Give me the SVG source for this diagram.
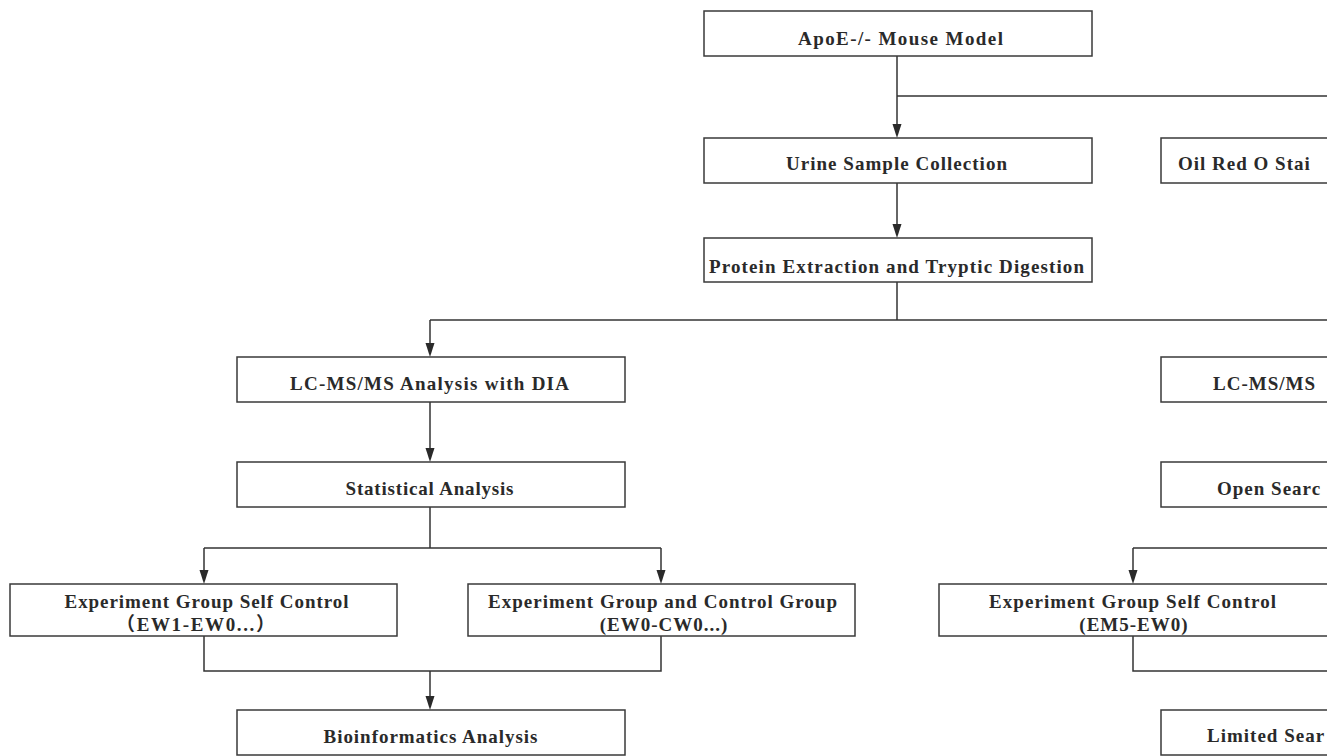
<svg xmlns="http://www.w3.org/2000/svg" width="1327" height="756" viewBox="0 0 1327 756">
<style>
.box{fill:#fff;stroke:#3a3a3a;stroke-width:1.5}
.t{font-family:"Liberation Serif","Times New Roman",serif;font-weight:bold;font-size:19px;fill:#2a2a2a;text-anchor:middle;letter-spacing:1px}
.ts{font-family:"Liberation Serif","Times New Roman",serif;font-weight:bold;font-size:19px;fill:#2a2a2a;letter-spacing:1px}
.c{fill:none;stroke:#333;stroke-width:1.5}
.ah{fill:#2a2a2a}
</style>
<rect width="1327" height="756" fill="#fff"/>
<g id="connectors">
<path class="c" d="M897,56 V125"/>
<path class="c" d="M897,96 H1327"/>
<path class="c" d="M897,183 V225"/>
<path class="c" d="M897,282 V320"/>
<path class="c" d="M430,320 H1327"/>
<path class="c" d="M430,320 V344"/>
<path class="c" d="M430,402 V449"/>
<path class="c" d="M430,507 V548"/>
<path class="c" d="M204,548 H661"/>
<path class="c" d="M204,548 V571"/>
<path class="c" d="M661,548 V571"/>
<path class="c" d="M204,636 V671 H661 V636"/>
<path class="c" d="M430,671 V697"/>
<path class="c" d="M1133,548 H1327"/>
<path class="c" d="M1133,548 V571"/>
<path class="c" d="M1133,636 V671 H1327"/>
<path class="ah" d="M892.5,124 L901.5,124 L897,138 Z"/>
<path class="ah" d="M892.5,224 L901.5,224 L897,238 Z"/>
<path class="ah" d="M425.5,343 L434.5,343 L430,357 Z"/>
<path class="ah" d="M425.5,448 L434.5,448 L430,462 Z"/>
<path class="ah" d="M199.5,570 L208.5,570 L204,584 Z"/>
<path class="ah" d="M656.5,570 L665.5,570 L661,584 Z"/>
<path class="ah" d="M425.5,696 L434.5,696 L430,710 Z"/>
<path class="ah" d="M1128.5,570 L1137.5,570 L1133,584 Z"/>
</g>
<g id="n-apoe"><rect class="box" x="704" y="11" width="388" height="45"/><text class="t" x="901" y="45" textLength="206">ApoE-/- Mouse Model</text></g>
<g id="n-urine"><rect class="box" x="704" y="138" width="388" height="45"/><text class="t" x="897" y="170" textLength="222">Urine Sample Collection</text></g>
<g id="n-oil"><rect class="box" x="1161" y="138" width="400" height="45"/><text class="ts" x="1178" y="170">Oil Red O Stai</text></g>
<g id="n-protein"><rect class="box" x="704" y="238" width="388" height="44"/><text class="t" x="897" y="273" textLength="376">Protein Extraction and Tryptic Digestion</text></g>
<g id="n-dia"><rect class="box" x="237" y="357" width="388" height="45"/><text class="t" x="430" y="390" textLength="280">LC-MS/MS Analysis with DIA</text></g>
<g id="n-lcms-r"><rect class="box" x="1161" y="357" width="400" height="45"/><text class="ts" x="1213" y="390">LC-MS/MS</text></g>
<g id="n-stat"><rect class="box" x="237" y="462" width="388" height="45"/><text class="t" x="430" y="495" textLength="169">Statistical Analysis</text></g>
<g id="n-open"><rect class="box" x="1161" y="462" width="400" height="45"/><text class="ts" x="1217" y="495">Open Searc</text></g>
<g id="n-egsc-l"><rect class="box" x="10" y="584" width="387" height="52"/><text class="t" x="207" y="608" textLength="285">Experiment Group Self Control</text><text class="t" x="196" y="631" style="font-family:'Liberation Serif','Noto Sans CJK SC',serif" textLength="160">（EW1-EW0...）</text></g>
<g id="n-egcg"><rect class="box" x="468" y="584" width="387" height="52"/><text class="t" x="663" y="608" textLength="350">Experiment Group and Control Group</text><text class="t" x="664" y="631">(EW0-CW0...)</text></g>
<g id="n-egsc-r"><rect class="box" x="939" y="584" width="400" height="52"/><text class="t" x="1133" y="608" textLength="288">Experiment Group Self Control</text><text class="t" x="1134" y="631">(EM5-EW0)</text></g>
<g id="n-bio"><rect class="box" x="237" y="710" width="388" height="45"/><text class="t" x="431" y="743" textLength="215">Bioinformatics Analysis</text></g>
<g id="n-limited"><rect class="box" x="1161" y="710" width="400" height="45"/><text class="ts" x="1207" y="742">Limited Sear</text></g>
</svg>
